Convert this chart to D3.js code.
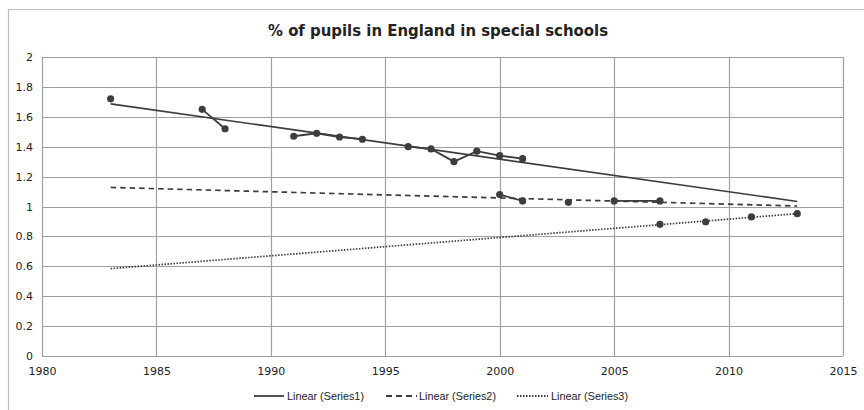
<!DOCTYPE html>
<html><head><meta charset="utf-8">
<script src="https://cdn.jsdelivr.net/npm/d3@7"></script>
<style>
html,body{margin:0;padding:0;background:#fff;}
svg{display:block;font-family:"DejaVu Sans",Verdana,sans-serif;}
</style></head>
<body><svg id="c" width="864" height="410"></svg>
<script>
const title = "% of pupils in England in special schools";
const xTicks = [1980,1985,1990,1995,2000,2005,2010,2015];
const yTicks = [0,0.2,0.4,0.6,0.8,1,1.2,1.4,1.6,1.8,2];
const trendExtent = [1983, 2013];

// Series values; null = gap in the line
const years1 = [1983,1984,1987,1988,1989,1991,1992,1993,1994,1995,1996,1997,1998,1999,2000,2001];
const values1 = [1.72,null,1.65,1.52,null,1.47,1.49,1.465,1.45,null,1.40,1.385,1.30,1.37,1.34,1.32];
const years2 = [2000,2001,2002,2003,2004,2005,2007];
const values2 = [1.08,1.037,null,1.028,null,1.037,1.037];
const years3 = [2007,2008,2009,2010,2011,2012,2013];
const values3 = [0.881,null,0.898,null,0.930,null,0.952];
const legendLabels = ["Linear (Series1)","Linear (Series2)","Linear (Series3)"];

const svg = d3.select("#c");
const L = 42, R = 843, T = 57, B = 356;
const x = d3.scaleLinear().domain([1980,2015]).range([L,R]);
const y = d3.scaleLinear().domain([0,2]).range([B,T]);
const ink = "#3d3d3d";

// outer chart frame
svg.append("path").attr("d",`M8.5,410 V9.5 H864`).attr("fill","none").attr("stroke","#bdbdbd").attr("stroke-width",1.2);

// title
svg.append("text").attr("x",438).attr("y",36).attr("text-anchor","middle")
  .attr("font-size",15).attr("font-weight","bold").attr("fill","#222")
  .attr("textLength",340).attr("lengthAdjust","spacingAndGlyphs").text(title);

// grid
const g = svg.append("g");
g.selectAll(".hy").data(yTicks).join("line")
  .attr("x1",L).attr("x2",R).attr("y1",d=>Math.round(y(d))+0.5).attr("y2",d=>Math.round(y(d))+0.5)
  .attr("stroke","#a0a0a0").attr("stroke-width",1.2);
g.selectAll(".vx").data(xTicks).join("line")
  .attr("y1",T).attr("y2",B).attr("x1",d=>Math.round(x(d))+0.5).attr("x2",d=>Math.round(x(d))+0.5)
  .attr("stroke","#a0a0a0").attr("stroke-width",1.2);

// axes labels via d3 axes
const yAxis = d3.axisLeft(y).tickValues(yTicks).tickSize(0).tickPadding(9).tickFormat(d3.format("~g"));
const ya = svg.append("g").attr("transform",`translate(${L},0)`).call(yAxis);
ya.select(".domain").remove();
ya.selectAll("text").attr("font-size",11).attr("fill","#222").attr("font-family","DejaVu Sans, sans-serif");

const xAxis = d3.axisBottom(x).tickValues(xTicks).tickSize(0).tickPadding(11).tickFormat(d3.format("d"));
const xa = svg.append("g").attr("transform",`translate(0,${B})`).call(xAxis);
xa.select(".domain").remove();
xa.selectAll("text").attr("font-size",11).attr("fill","#222").attr("font-family","DejaVu Sans, sans-serif");

// regression
function fit(xs, vs){
  const pts = xs.map((d,i)=>[d,vs[i]]).filter(p=>p[1]!=null);
  const mx = d3.mean(pts,p=>p[0]), my = d3.mean(pts,p=>p[1]);
  const sxy = d3.sum(pts,p=>(p[0]-mx)*(p[1]-my)), sxx = d3.sum(pts,p=>(p[0]-mx)**2);
  const b = sxy/sxx, a = my - b*mx;
  return trendExtent.map(t=>[t, a+b*t]);
}
const series = [
  {xs:years1, vs:values1, dash:null},
  {xs:years2, vs:values2, dash:"5.5,4"},
  {xs:years3, vs:values3, dash:"1.5,1.5"}
];
const line = d3.line().defined(d=>d[1]!=null).x(d=>x(d[0])).y(d=>y(d[1]));

series.forEach(s=>{
  svg.append("path").attr("d", line(fit(s.xs,s.vs)))
    .attr("fill","none").attr("stroke",ink).attr("stroke-width",1.7)
    .attr("stroke-dasharray", s.dash);
});
series.forEach(s=>{
  const pts = s.xs.map((d,i)=>[d,s.vs[i]]);
  svg.append("path").attr("d", line(pts)).attr("fill","none").attr("stroke",ink).attr("stroke-width",1.8);
  svg.append("g").selectAll("circle").data(pts.filter(p=>p[1]!=null)).join("circle")
    .attr("cx",d=>x(d[0])).attr("cy",d=>y(d[1])).attr("r",3.6).attr("fill",ink);
});

// legend
const leg = [
  {x0:254,x1:284,tx:287,dash:null},
  {x0:386,x1:417,tx:419,dash:"6,4"},
  {x0:517,x1:548,tx:551,dash:"1.5,1.5"}
];
leg.forEach((l,i)=>{
  svg.append("line").attr("x1",l.x0).attr("x2",l.x1).attr("y1",396).attr("y2",396)
    .attr("stroke",ink).attr("stroke-width",1.8).attr("stroke-dasharray",l.dash);
  svg.append("text").attr("x",l.tx).attr("y",399.5).attr("font-size",10.5).attr("fill","#222")
    .attr("font-family","Liberation Sans, Arial, sans-serif")
    .attr("textLength",77).attr("lengthAdjust","spacingAndGlyphs").text(legendLabels[i]);
});
</script></body></html>
